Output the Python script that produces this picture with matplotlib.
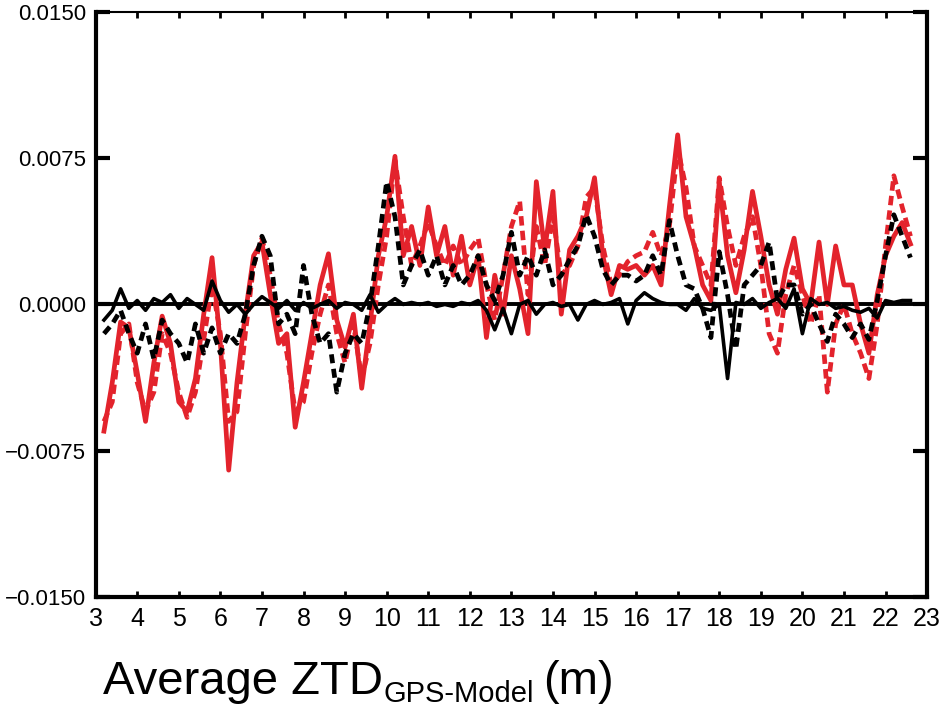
import matplotlib
matplotlib.use("Agg")
import matplotlib.pyplot as plt
import numpy as np

# ---- data (values in 1e-3 m) ----
x_vals = [3.2, 3.4, 3.6, 3.8, 4.0, 4.2, 4.4, 4.6, 4.8, 5.0,
          5.2, 5.4, 5.6, 5.8, 6.0, 6.2, 6.4, 6.6, 6.8, 7.0,
          7.2, 7.4, 7.6, 7.8, 8.0, 8.2, 8.4, 8.6, 8.8, 9.0,
          9.2, 9.4, 9.6, 9.8, 10.0, 10.2, 10.4, 10.6, 10.8, 11.0,
          11.2, 11.4, 11.6, 11.8, 12.0, 12.2, 12.4, 12.6, 12.8, 13.0,
          13.2, 13.4, 13.6, 13.8, 14.0, 14.2, 14.4, 14.6, 14.8, 15.0,
          15.2, 15.4, 15.6, 15.8, 16.0, 16.2, 16.4, 16.6, 16.8, 17.0,
          17.2, 17.4, 17.6, 17.8, 18.0, 18.2, 18.4, 18.6, 18.8, 19.0,
          19.2, 19.4, 19.6, 19.8, 20.0, 20.2, 20.4, 20.6, 20.8, 21.0,
          21.2, 21.4, 21.6, 21.8, 22.0, 22.2, 22.4, 22.6]

red_solid = [-6.5, -4.0, -0.9, -1.2, -3.5, -6.0, -3.0, -0.6, -2.0, -5.0,
             -5.5, -3.8, -0.5, 2.4, -2.0, -8.5, -4.0, -0.5, 2.5, 3.2,
             0.5, -2.0, -1.5, -6.3, -4.0, -1.5, 1.0, 2.6, -0.8, -2.2,
             -0.5, -4.3, -1.0, 2.5, 4.5, 7.6, 2.5, 4.0, 2.0, 5.0,
             2.5, 4.0, 1.5, 3.5, 1.0, 2.5, -1.7, 1.5, -0.5, 2.5,
             0.8, -1.5, 6.3, 2.8, 5.8, -0.5, 2.8, 3.5, 4.5, 6.5,
             2.5, 0.5, 2.0, 1.8, 2.0, 1.5, 2.0, 1.0, 5.0, 8.7,
             4.5, 3.0, 1.0, 0.2, 6.3, 2.5, 0.6, 2.8, 5.8, 3.5,
             1.0, -0.5, 1.8, 3.4, 0.8, 0.0, 3.2, 0.0, 3.0, 1.0,
             1.0, -1.0, -2.5, 0.5, 2.5, 3.5, 4.2, 3.1]

red_dashed = [-6.0, -5.0, -1.5, -1.0, -4.0, -5.5, -4.5, -1.5, -2.5, -4.5,
              -5.8, -4.5, -1.8, 1.0, -1.5, -6.0, -5.5, -1.5, 2.0, 3.4,
              1.5, -1.0, -2.5, -5.5, -5.0, -2.5, -0.5, 1.0, -1.5, -3.0,
              -1.0, -3.8, -2.0, 1.0, 3.5, 7.4, 4.5, 2.0, 3.0, 4.2,
              3.0, 2.0, 3.0, 2.0, 2.8, 3.4, 1.0, -0.8, 1.5, 4.0,
              5.3, 0.5, 4.0, 2.0, 4.5, 1.5, 2.0, 3.0, 5.5, 6.0,
              3.0, 1.0, 1.5, 2.2, 2.5, 2.7, 3.7, 2.5, 4.0, 8.0,
              6.0, 3.0, 2.0, 1.0, 6.5, 4.0, 2.0, 3.5, 4.5, 2.0,
              -1.5, -2.5, 0.5, 2.0, 0.5, -1.0, 0.5, -4.5, -1.0, 0.0,
              -1.5, -2.5, -3.8, -1.0, 3.0, 6.6, 5.0, 3.5]

black_dashed = [-1.5, -1.0, -0.3, -1.5, -2.5, -1.0, -2.8, -0.8, -1.5, -2.0,
                -3.0, -1.0, -2.5, -1.2, -2.5, -1.5, -2.0, -0.5, 2.0, 3.5,
                2.5, -1.0, -0.5, -1.5, 2.0, -0.5, -2.0, -1.5, -4.5, -2.5,
                -1.5, -2.0, 0.0, 3.0, 6.3, 4.5, 1.0, 2.0, 2.8, 1.5,
                2.5, 1.0, 2.0, 1.0, 1.5, 2.5, 1.0, 0.2, 1.5, 3.7,
                1.5, 2.5, 1.5, 2.8, 1.0, 1.5, 2.3, 3.0, 4.6, 3.5,
                1.8, 1.0, 1.5, 1.5, 1.2, 1.5, 2.5, 1.5, 4.3, 2.5,
                1.0, 0.8, -0.2, -1.7, 2.7, 0.5, -2.3, 1.0, 1.5, 2.0,
                3.2, 0.2, 1.0, 1.0, -0.5, 0.0, -1.0, -1.9, -0.5, -1.0,
                -1.7, -1.0, -1.8, 0.2, 2.5, 4.6, 3.5, 2.4]

black_solid = [-0.8, -0.3, 0.8, -0.2, 0.2, -0.3, 0.3, 0.1, 0.5, -0.2,
               0.3, 0.0, -0.3, 1.2, 0.2, -0.4, 0.0, -0.5, 0.0, 0.4,
               0.1, -0.2, 0.2, -0.3, 0.1, -0.2, 0.0, 0.2, -0.2, 0.1,
               0.0, -0.3, 0.5, -0.4, 0.0, 0.3, 0.0, 0.1, 0.0, 0.1,
               -0.1, 0.0, -0.1, 0.1, 0.0, 0.2, -0.3, -1.3, -0.2, -1.5,
               0.0, 0.2, -0.5, 0.0, 0.1, -0.1, 0.0, -0.8, 0.0, 0.2,
               0.0, 0.1, 0.3, -1.0, 0.2, 0.6, 0.3, 0.1, 0.0, 0.0,
               -0.3, 0.3, -0.2, -0.3, 0.0, -3.8, 0.1, 0.0, 0.3, -0.2,
               0.1, 0.3, -0.2, 0.8, -1.5, 0.3, 0.0, 0.1, -0.2, -0.1,
               -0.3, -0.4, -0.2, -0.7, 0.2, 0.1, 0.2, 0.2]

x_ticks = list(range(3, 24))
y_ticks = [-0.015, -0.0075, 0.0, 0.0075, 0.015]
y_tick_labels = ["\u22120.0150", "\u22120.0075", "0.0000", "0.0075", "0.0150"]

RED = "#e3232c"

fig = plt.figure(figsize=(9.47, 7.08), dpi=100)
ax = fig.add_axes([0.101, 0.157, 0.878, 0.826])

scale = 1e-3
xs = np.array(x_vals)
ax.axhline(0, color="black", lw=2.8, zorder=1)
ax.plot(xs, np.array(red_dashed) * scale, color=RED, lw=3.4, ls=(0, (2.0, 1.1)), zorder=2)
ax.plot(xs, np.array(red_solid) * scale, color=RED, lw=3.4, zorder=3)
ax.plot(xs, np.array(black_dashed) * scale, color="black", lw=3.4, ls=(0, (1.9, 1.2)), zorder=4)
ax.plot(xs, np.array(black_solid) * scale, color="black", lw=2.6, zorder=5)

ax.set_xlim(3, 23)
ax.set_ylim(-0.015, 0.015)
ax.set_xticks(x_ticks)
ax.set_xticklabels([str(t) for t in x_ticks],
                   fontfamily=["Liberation Sans Narrow", "Liberation Sans"], fontsize=18)
ax.set_yticks(y_ticks)
ax.set_yticklabels(y_tick_labels, fontfamily=["Liberation Sans", "DejaVu Sans"], fontsize=16)

ax.tick_params(axis="y", direction="in", length=10, width=3, pad=7, right=True)
ax.tick_params(axis="x", direction="in", length=4, width=2, pad=7, top=True)

for side in ["left", "bottom", "right"]:
    ax.spines[side].set_linewidth(3)
ax.spines["top"].set_linewidth(1.5)

# bottom title built from pieces so the subscript can be sized and lowered
renderer = fig.canvas.get_renderer()
t1 = fig.text(103 / 947, 1 - 694 / 708, "Average ZTD", fontsize=34,
              fontfamily="Liberation Sans", ha="left", va="baseline")
bb = t1.get_window_extent(renderer)
t2 = fig.text(bb.x1 / 947 + 0.001, 1 - 702 / 708, "GPS-Model", fontsize=21,
              fontfamily="Liberation Sans", ha="left", va="baseline")
bb2 = t2.get_window_extent(renderer)
fig.text(bb2.x1 / 947 + 0.009, 1 - 694 / 708, "(m)", fontsize=34,
         fontfamily="Liberation Sans", ha="left", va="baseline")

fig.savefig("out.png", dpi=100)
